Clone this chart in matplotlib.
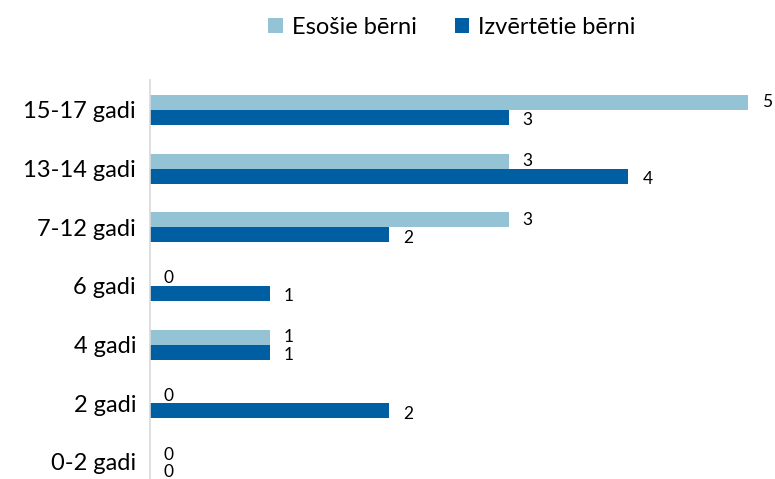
import matplotlib.pyplot as plt
import numpy as np

plt.rcParams['font.family'] = ['Lato', 'DejaVu Sans']

categories = ['0-2 gadi', '2 gadi', '4 gadi', '6 gadi', '7-12 gadi', '13-14 gadi', '15-17 gadi']
esosie = [0, 0, 1, 0, 3, 3, 5]
izvertetie = [0, 2, 1, 1, 2, 4, 3]

light = '#93c3d5'
dark = '#005fa3'

fig = plt.figure(figsize=(7.75, 4.79), dpi=100)
ax = fig.add_axes([150 / 775, 0, 1 - 150 / 775, 399 / 479])

y = np.arange(len(categories))
h = 0.255
b1 = ax.barh(y + h / 2, esosie, height=h, color=light, label='Esošie bērni')
b2 = ax.barh(y - h / 2, izvertetie, height=h, color=dark, label='Izvērtētie bērni')

for yi, v in zip(y, esosie):
    ax.annotate(str(v), (v, yi + h / 2), xytext=(10, 0), textcoords='offset points',
                ha='left', va='center', fontsize=12.5)
for yi, v in zip(y, izvertetie):
    ax.annotate(str(v), (v, yi - h / 2), xytext=(10, -2), textcoords='offset points',
                ha='left', va='center', fontsize=12.5)

ax.set_xlim(0, 625 / 119.6)
ax.set_ylim(-0.29, 6.51)
ax.set_yticks(y)
ax.set_yticklabels(categories, fontsize=17)
ax.set_xticks([])
ax.tick_params(axis='y', length=0, pad=10)
for s in ['top', 'right', 'bottom']:
    ax.spines[s].set_visible(False)
ax.spines['left'].set_color('#d9d9d9')
ax.spines['left'].set_linewidth(1.2)

fig.legend(handles=[b1, b2], loc='center', bbox_to_anchor=(452 / 775, 1 - 27 / 479),
           ncol=2, frameon=False, fontsize=17, handlelength=0.6, handleheight=0.6,
           handletextpad=0.4, columnspacing=1.6)

fig.savefig('out.png', dpi=100)
